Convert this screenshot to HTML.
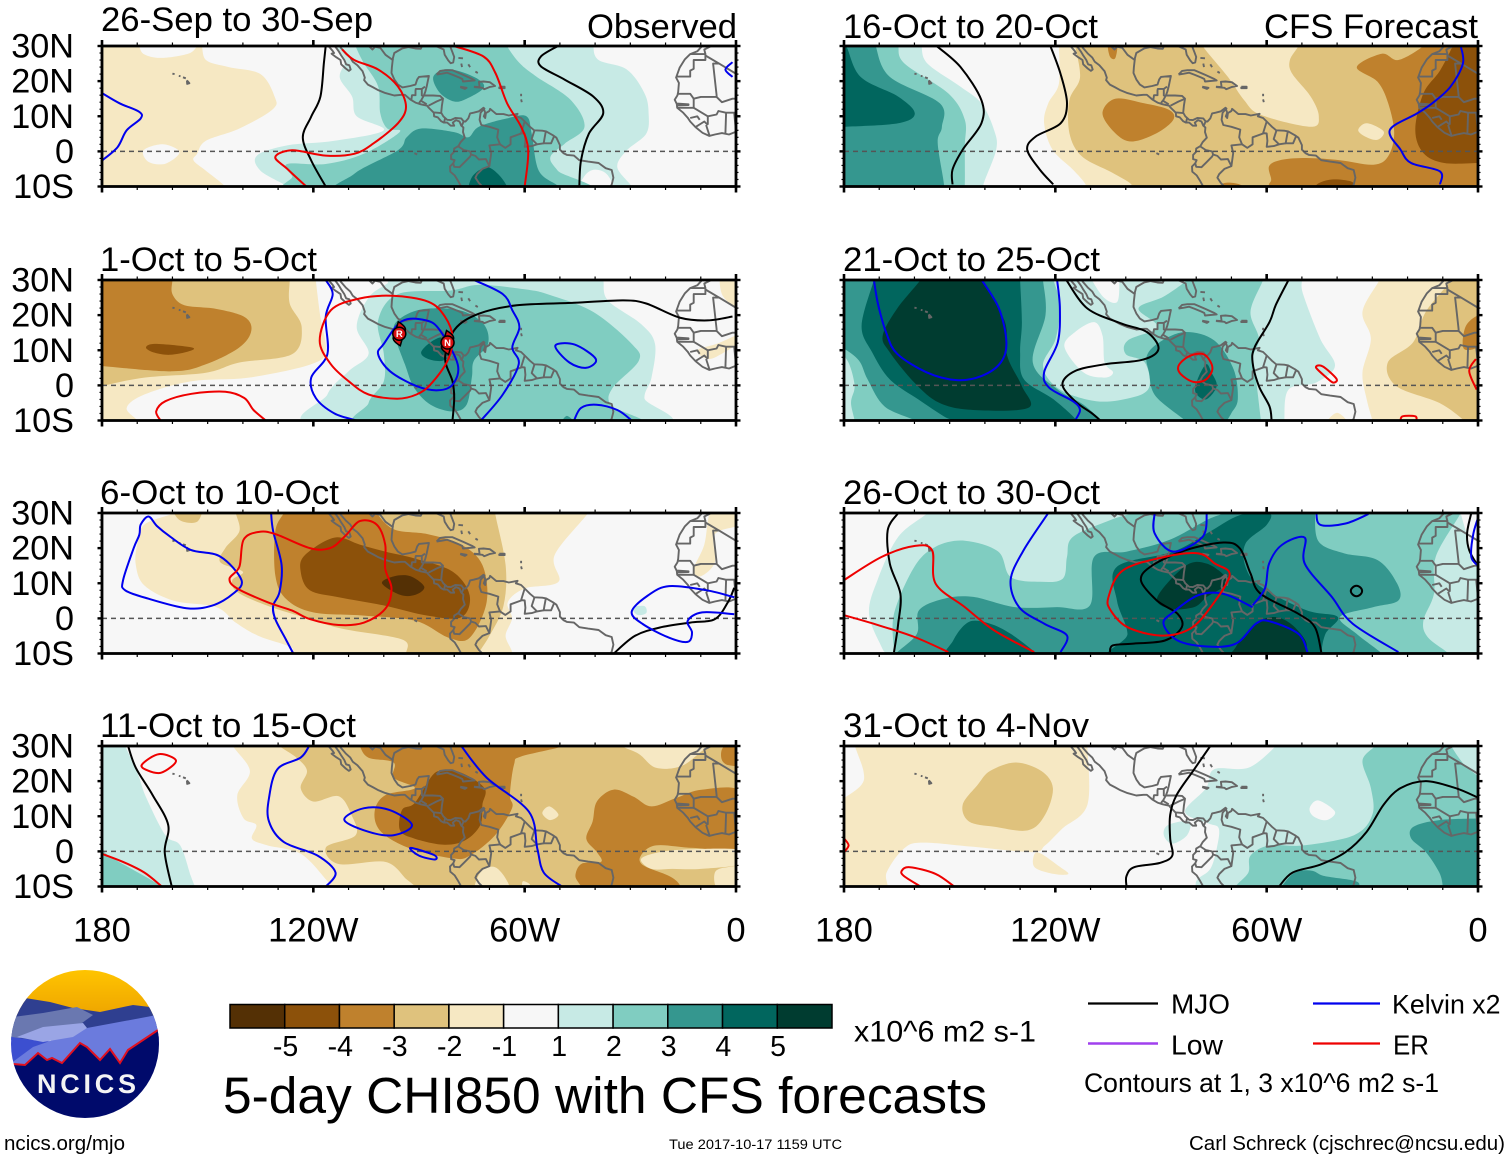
<!DOCTYPE html>
<html lang="en">
<head>
<meta charset="utf-8">
<title>5-day CHI850 with CFS forecasts</title>
<style>
html,body{margin:0;padding:0;background:#fff;width:1510px;height:1159px;overflow:hidden}
svg{display:block}
text{font-family:"Liberation Sans",sans-serif;fill:#000}
</style>
</head>
<body>
<svg id="chart" xmlns="http://www.w3.org/2000/svg" width="1510" height="1159" viewBox="0 0 1510 1159">
  <g id="panels"></g>

  <g>
    <text x="101" y="31" font-size="34.7" textLength="272" lengthAdjust="spacingAndGlyphs">26-Sep to 30-Sep</text>
    <text x="587" y="38" font-size="34.7" textLength="150" lengthAdjust="spacingAndGlyphs">Observed</text>
    <text x="100" y="271" font-size="34.7" textLength="217" lengthAdjust="spacingAndGlyphs">1-Oct to 5-Oct</text>
    <text x="100" y="504" font-size="34.7" textLength="239" lengthAdjust="spacingAndGlyphs">6-Oct to 10-Oct</text>
    <text x="100" y="737" font-size="34.7" textLength="256" lengthAdjust="spacingAndGlyphs">11-Oct to 15-Oct</text>
    <text x="843" y="38" font-size="34.7" textLength="255" lengthAdjust="spacingAndGlyphs">16-Oct to 20-Oct</text>
    <text x="1264" y="38" font-size="34.7" textLength="214" lengthAdjust="spacingAndGlyphs">CFS Forecast</text>
    <text x="843" y="271" font-size="34.7" textLength="257" lengthAdjust="spacingAndGlyphs">21-Oct to 25-Oct</text>
    <text x="843" y="504" font-size="34.7" textLength="257" lengthAdjust="spacingAndGlyphs">26-Oct to 30-Oct</text>
    <text x="843" y="737" font-size="34.7" textLength="246" lengthAdjust="spacingAndGlyphs">31-Oct to 4-Nov</text>
  </g>

  <g id="colorbar"></g>
  <text x="854" y="1041.5" font-size="30" textLength="182" lengthAdjust="spacingAndGlyphs">x10^6 m2 s-1</text>
  <text x="223" y="1113" font-size="51.4" textLength="764" lengthAdjust="spacingAndGlyphs">5-day CHI850 with CFS forecasts</text>

  <g>
    <line x1="1088" y1="1003.5" x2="1158" y2="1003.5" stroke="#000" stroke-width="2.2"/>
    <text x="1171" y="1013.5" font-size="28" textLength="59" lengthAdjust="spacingAndGlyphs">MJO</text>
    <line x1="1313" y1="1003.5" x2="1380" y2="1003.5" stroke="#0000ee" stroke-width="2.2"/>
    <text x="1392" y="1013.5" font-size="27" textLength="108.5" lengthAdjust="spacingAndGlyphs">Kelvin x2</text>
    <line x1="1088" y1="1043.5" x2="1158" y2="1043.5" stroke="#a040ee" stroke-width="2.6"/>
    <text x="1171" y="1054.5" font-size="28" textLength="52" lengthAdjust="spacingAndGlyphs">Low</text>
    <line x1="1313" y1="1043.5" x2="1380" y2="1043.5" stroke="#ee0000" stroke-width="2.2"/>
    <text x="1393" y="1054.5" font-size="28" textLength="36" lengthAdjust="spacingAndGlyphs">ER</text>
    <text x="1084" y="1092" font-size="26.7" textLength="355" lengthAdjust="spacingAndGlyphs">Contours at 1, 3 x10^6 m2 s-1</text>
  </g>

  <text x="4" y="1150" font-size="20.5" textLength="121" lengthAdjust="spacingAndGlyphs">ncics.org/mjo</text>
  <text x="669" y="1149" font-size="14" textLength="173" lengthAdjust="spacingAndGlyphs">Tue 2017-10-17 1159 UTC</text>
  <text x="1189" y="1150" font-size="20.5" textLength="316" lengthAdjust="spacingAndGlyphs">Carl Schreck (cjschrec@ncsu.edu)</text>

  <g>
    <defs>
      <clipPath id="logoClip"><circle cx="85" cy="1044" r="74"/></clipPath>
      <linearGradient id="skyGrad" x1="0" y1="0" x2="0" y2="1">
        <stop offset="0" stop-color="#ffc400"/><stop offset="1" stop-color="#eea500"/>
      </linearGradient>
    </defs>
    <g clip-path="url(#logoClip)">
      <rect x="10" y="970" width="150" height="45" fill="url(#skyGrad)"/>
      <path d="M5 1000L25 998L50 1002L73 1008L100 1012L133 1005L150 1007L165 1012V1040H5Z" fill="#2f3f90"/>
      <path d="M5 1022L13 1017L43 1013L77 1007L93 1015L82 1023L60 1028L20 1038L5 1040Z" fill="#6a78b0"/>
      <path d="M5 1036L33 1040L60 1042L33 1050L15 1062L5 1070Z" fill="#3c4fd0"/>
      <path d="M10 1064L33 1047L87 1028L157 1015L165 1013V1040L127 1060L60 1072L10 1072Z" fill="#6b7bdd"/>
      <path d="M17 1037L43 1027L83 1023L87 1028L73 1037L43 1042Z" fill="#9aa5e5"/>
      <path d="M5 1064L13 1064L25 1065L38 1053L47 1060L52 1058L62 1063L80 1043L87 1047L100 1060L110 1049L120 1063L128 1050L158 1030L165 1026V1125H5Z" fill="#000a6b"/>
      <path d="M5 1064L13 1064L25 1065L38 1053L47 1060L52 1058L62 1063L80 1043L87 1047L100 1060L110 1049L120 1063L128 1050L158 1030L165 1026" fill="none" stroke="#e01020" stroke-width="2"/>
    </g>
    <text x="37" y="1093" font-size="27" font-weight="bold" textLength="99" style="fill:#f4f4f4">NCICS</text>
  </g>
</svg>

<script>
// ---- axis ticks -----------------------------------------------------------
const xTickValues = [180, 120, 60, 0];
const xTickLabels = ['180', '120W', '60W', '0'];
const yTickValues = [30, 20, 10, 0, -10];
const yTickLabels = ['30N', '20N', '10N', '0', '10S'];

// ---- colour scale ---------------------------------------------------------
const colorbarLevels = [-6, -5, -4, -3, -2, 0, 1, 2, 3, 4, 5];
const colorbarColors = ['#543005', '#8c510a', '#bf812d', '#dfc27d', '#f6e8c3', '#f7f7f7', '#c7eae5', '#80cdc1', '#35978f', '#01665e', '#003c30'];
const colorbarTicks = ['-5', '-4', '-3', '-2', '-1', '1', '2', '3', '4', '5'];

// ---- geography: lon degrees west, lat degrees north -----------------------
const coastPaths = [
 [116.2,31,115.7,30,114.6,28.7,114.1,28,114.8,27.8,113.5,26.8,112.3,26,112.1,24.8,110.8,23.6,109.9,22.9,109.4,23.3,109.8,24.5,110.7,24.8,111.2,26,112.2,27.5,112.8,28.5,113.5,29.5,114.7,30.8,114.8,32],
 [114.8,32,113,31.2,112.2,29.5,110.8,27.9,109.5,26.7,108.8,25.5,107.5,24.5,106,22.8,105.4,21,105.6,20.3,104.5,19,103,18.2,101.5,17.4,99.5,16.6,97,15.9,95,16.1,94,16.1,92.5,14.8,91,13.9,89.5,13.4,87.7,13,87.3,12.5,85.8,11,85.7,10,84.7,9.7,83.7,8.6,83,8.2,82,8.2,81,7.3,80,7.3,80.4,8.2,79.5,8.9,78.5,8.5,78,7.3,77.4,6.8,77.5,5.5,77,3.9,78.2,2.6,78.8,1.5,80,0.8,80.1,-0.2,80.9,-1,80.9,-2.2,79.9,-2.5,80.3,-3.4,81.2,-4.3,81.1,-5.8,79.9,-6.8,79,-8.2,78.3,-9.5,77.9,-10.3],
 [93,29.7,94.8,29.3,97,28,97.4,26.5,97.7,24,97.8,22.3,97,20.5,96,19,94.7,18.2,92.5,18.6,91,19,90.5,20.5,90,21.2,87.2,21.5,87.5,20,87.8,18.5,88.2,17,88.6,15.9,86,15.9,84,15.8,83.2,15,83.5,13,83.7,11,83.1,10,82,9,81,8.9,79.7,9.5,78,9.4,77.3,8.5,76.8,8.5,76,9.4,75.5,10.8,74.5,11,73,11.4,71.7,12.4,71.2,11,71.6,10,71.2,9.5,71,10.9,70,11.5,69.8,12.1,68.5,11,68,10.6,66,10.6,64.5,10.2,62,10.7,62.5,10,61,9.5,60,8.5,58.5,7,57.3,6,55,5.9,53.9,5.7,52,4.6,51,3.9,50,1.8,50,0.5,49,-0.5,48,-1,46,-1.2,44.5,-2.5,42,-2.9,39,-3.3,37,-4.8,35.3,-5.3,34.8,-7.5,35.3,-9.5,36,-10.5],
 [93,29.7,91,29.3,89.5,29.2,89,30.3,86,30.4,84.5,29.7,83,29,82.7,27.5,81.7,25.9,81,25.1,80.3,25.3,80,26.9,80.6,28.5,81.4,30.5,81.5,31],
 [85,21.9,84,22.9,82.5,23.1,80.5,23.1,77.5,21.8,75,20.7,74.2,20.2,77.5,19.9,77.7,20.6,78.5,21,80.5,21.8,82,22.4,83.5,22.1,85,21.9],
 [78.3,18.4,76.5,18.1,77,17.8,78.3,18.3],
 [74.4,18.4,72.8,18.3,73,19.8,71.7,19.9,69.9,19.7,68.4,18.6,70,18.3,71.5,17.7,72,18.1,74.4,18.3],
 [67.2,18.4,65.7,18.4,65.7,18,67.2,18,67.2,18.4],
 [78.8,26.6,77.5,26.5],[78,25,77.8,24],[76,24.8,75.5,24],[74,22.7,73.3,22.3],
 [61,16.4,61,15.7],[61,14.8,60.8,14],
 [160,22.1,159.4,22],[158.2,21.5,157.7,21.4],[157,21.1,156.2,20.8],[155.9,20.2,155.2,19.4,155.8,19.2,155.9,20.2],
 [91.3,-0.5,90.5,-0.9],
 [106.5,31.8,105,30.7,103.2,29,102.5,29.8,101,29.5,99.5,27.5,97.3,25.9],
 [92.2,14.6,92,16,91,16,91,17.3,90.9,17.8,89.2,17.8,88.3,18.4],
 [89.2,17.8,89.2,15.9,88.7,15.8,89.4,14.5,89.7,14.2,90,13.7],
 [89.4,14.4,87.8,13.4],[87.3,13,85,14.2,83.2,15],[85.7,11.1,83.7,10.9],[82.6,9.5,82.9,8.1],[77.3,8.6,77.9,7.2],
 [71.3,12.4,72.5,11,72.8,9,72.3,7.5,70,7,67.5,6.2,67.8,4,67,2,70,1.7,69.5,-0.5,70,-4.2,72,-5,73.5,-6.5,74,-7.5,73,-9,72,-10,70.5,-11],
 [78.8,1.4,77.3,0.4,75.5,0,75.2,-0.9,74,-1.3,73,-2.3,71,-2.2,70,-4.2],
 [75.2,-0.9,75.5,-1.5,77,-3,78.5,-4.5,80,-4.4,80.3,-3.4],
 [60,8.5,61,5.2,60,5.1,59.8,3,60,1.3,58,1.5,56.5,2],
 [60.7,5.2,64,4,64,2,65.5,1,67,2],
 [57.2,6,58,3.5,56.5,2,54.6,2.3],[54,5.7,54.4,3.5,54.6,2.3,52.5,2.3,51.7,4.2],
 [9.7,30.5,9.8,29.8,11,28.5,13,27.7,14.5,26.2,16,23.8,17,21,16.2,19.5,16.4,17,16.6,16,17.4,14.7,16.8,13.5,16.7,12.4,15,11,13.7,9.6,13,8.5,11.5,6.9,9.5,5.3,7.6,4.4,6,4.8,4,5.2,2,4.8,0,5.6,-1,5.8],
 [8.7,27.7,9,29,7,30,5,31.5],
 [13,27.7,8.7,27.7,8.7,26,12,26,12,23.5,13,23,13,21.3,17,21.3],
 [8.7,27.3,4.8,25,6.5,25,5.5,16,5.5,15.5,10,15.5,12,15,13,16.4,16.4,16.4],
 [4.8,25,-1,21.5],
 [16.7,13.6,13.5,13.4,13.5,13.2,16.7,13.1],
 [16.7,12.4,12,12.4,12,15],[12,12.4,8,10,5.5,10.5,5,11.5,2.9,11,0,11,-1,13],
 [8.5,7.5,7.5,4.4],[8,10,8,7.6],[11.5,6.9,9,8.5,8,7.5],[13,9.5,11,10,10.3,9],[3,5,2.8,11],[0,5.6,0.5,11],[5.5,15.5,4,14,1,15,-1,15]
];

// ---- panel 1: 26-Sep to 30-Sep -------------------------------------------
const p1Shading = [
 [-2,[182,32,170,32,169.5,30,168,27.6,163,26.6,155,28,152,31,150.5,26,144,24,135,22,131,15.6,131.5,12,141,6.5,150.5,3,153,-0.7,154,-2.6,150.5,-5.5,145,-10,145,-12,182,-12]],
 [0,[168.2,0.3,162.7,2,158,-0.2,162,-3.5,166.8,-3]],
 [1,[114,32,114,30,111,26,112.5,21,109,15.6,107.7,10,100,6,114,3,127.4,1.7,136,-1.2,135,-5.5,127.4,-10,127,-12,30,-12,29.6,-10,33.7,-4.5,31,0.3,25.5,5,24.8,10.8,26,16.6,31,23.3,39,26,40.5,30,40,32]],
 [0,[44.5,-12,43,-7,40,-5.2,36.4,-6.8,35,-12]],
 [2,[108,32,108,30,105.7,25.2,101.6,18.5,101,10.8,99,6.5,95.5,5.5,105.7,-0.7,116.5,-3.6,127.4,-3.6,126,-7,122,-12,44.5,-12,50.6,-5.5,52.7,-1.6,48.6,2.2,43,7,47,14.7,56.8,21.4,61.5,25.2,65,30,65,32]],
 [3,[86,21,83,23.3,78.5,22.8,73,20.4,71.7,18,76.5,15,80,14.2,84,16.6]],
 [3,[108.4,-6.4,96,0.3,93.5,4,89.4,6.5,80,5.5,76,4,73,7,65,9.4,59.5,10,58,5,56,-5.5,50.6,-9.8,50,-12,110,-12]],
 [4,[75,-7.4,71,-4.5,67.6,-6.4,65,-10,65,-12,75,-12]]
];
const p1Mjo = [
 [116.5,30,117,25.2,118,15.6,120.6,9.9,123,4,120.6,-2.6,116.5,-10],
 [50.6,30,55.4,27,55.4,24.2,48.6,20.4,40.5,15.6,37.7,10.8,41.8,5,44,-2.6,44.5,-10]
];
const p1Kelvin = [
 [180,16.6,175,13.7,169.5,11.3,169,9.4,173,6,175.6,1.2,180,-2.6],
 [1,25.4,3,23.3,1,21.2]
];
const p1Er = [
 [111.8,29,108.4,26,101.6,23.3,96,18.5,93.7,12.7,96,8,103,2.2,108.4,-0.7,116.5,-1.2,126,0.3,130.8,-1.6,127.4,-5,122,-10],
 [80,30,71.7,27,68.3,22.3,65,13.7,61,7,59,0.3,60,-10]
];

// ---- panel 2: 1-Oct to 5-Oct ---------------------------------------------
const p2Shading = [
 [-2,[119.3,32,119.3,30,118,19.5,116.5,10,120.6,6,138.3,2.2,154.6,1.2,168,-2.6,173,-6.4,170,-10,170,-12,182,-12,182,32]],
 [-3,[127,32,126.7,30,126.7,23.3,123.3,16.6,126,8.9,141,6.5,150.5,3.6,168,2.2,180,-0.2,182,-1,182,32]],
 [-4,[160,32,160,30,160,26,156.6,22.8,147.8,21.8,139.6,19.5,137.6,15.6,141,10.8,150.5,6,160,4,180,5.5,182,5.5,182,32]],
 [-5,[167.5,10.8,164.8,11.8,154.6,10.8,155.3,9.7,160.7,8.7,165.4,9.4]],
 [-2,[4,32,4,26,0,22,-2,22,-2,32]],
 [-2,[11,10,8,7.5,4,9,-2,13,-2,15,5,12]],
 [1,[116.8,-12,116,-2.6,110,4,104.3,9,107.7,16.6,104.3,25,99,29,95,32,39,32,37.7,30,36.4,24.2,27,17.5,23,11.8,24,2.2,26,-3.6,24,-12]],
 [2,[103,-12,104.3,-5,100,1.2,100,9,101.6,18.5,96,26,81,27,73,28.6,59.5,27.3,52.7,25.7,40.5,20.9,29.6,11.8,27.6,7,35,-0.7,35.7,-5.5,29.6,-12]],
 [3,[96,18.5,97,14.7,94,6,91.4,-0.7,86.7,-5.5,80.5,-7.4,76.5,-5.5,75,2.2,74.4,7,70.4,11.8,71.7,17.5,78.5,21.4,89.4,21.6]],
 [3,[49.3,-10.5,48,-8.7,46,-10.5]],
 [4,[89.4,9.4,86.7,12.3,83.3,13.7,80.5,11.8,81,9,83.3,7,87.4,7.5]]
];
const p2Mjo = [
 [1,19.6,8,18.5,16,19.3,25.5,23.3,32,24.2,46,23.5,62.2,22.8,73,20.4,79.8,16,82.6,8,80.5,1.2,80,-3.6,80.5,-10]
];
const p2Kelvin = [
 [116.5,30,114.5,26,116.5,19.5,116,8.9,120.6,2.2,119.3,-3.6,114,-8,107.7,-10],
 [74.4,30,66.2,26,63.5,21.4,61.5,16.6,63.5,10.8,61.7,6,66.2,-2.6,72.4,-10],
 [46,-10,44,-6.4,39.6,-5.5,33.7,-7,29.6,-10]
];
const p2KelvinLoops = [
 [100,11.8,94.8,18.3,88,18.5,84,15.6,79,6,80.4,0.3,84.6,-1.4,90.7,-0.2,98.2,4,101.6,8.9],
 [51.3,11.3,45.8,11.6,39.8,7.5,42.5,5,47.3,6.5]
];
const p2Er = [
 [163.4,-10,164.6,-7.4,162,-4.5,154.6,-2.4,145,-1.8,139.6,-3.6,137,-7,133.5,-10]
];
const p2ErLoops = [
 [118.2,12.7,115,21.4,107,24.7,97.5,25.5,87.3,23.8,82.6,19.5,80.5,13.7,81.9,7,86.7,0.3,90.7,-2.6,96.2,-3.8,104.3,-2.6,110,1.2,115,6]
];
const p2Storms = [[95.6,14.7],[81.9,12.2]];
const p2StormLabels = ['R','N'];

// ---- panel 3: 6-Oct to 10-Oct --------------------------------------------
const p3Shading = [
 [-2,[159.6,32,159.6,30,168,26.7,170,21,170.4,15.2,168,9.4,159.6,5,147.6,3.2,142,-1.2,135.6,-5,126,-8.4,123.6,-12,67,-12,63.6,-10,65.4,-5,63.6,0,64.8,4.6,60,8.5,50.4,10.4,51.5,18,42,30,42,32]],
 [-3,[159.6,32,158,28,153,27.5,152,32]],
 [-2,[6.5,32,-2,32,-2,27,6,24,6,16,10,12,12,14,9,21]],
 [1,[29.4,3,26,3.5,25.5,1.5,28,1]],
 [-3,[142,32,142,30,141,24.8,145,20,146.4,16,140,13.3,143,10.9,141.6,7.5,133,3.6,121,-0.2,111.6,-3,94.8,-6,93.6,-10,93,-12,72,-12,73,-10,70,-5,66,3.6,65.4,15.2,68.4,30,68,32]],
 [-4,[128,32,128.4,30,130.8,24.8,130.8,12.3,127.8,5.6,120,1.7,105.6,0.8,91,-0.7,81.6,-5.5,75.6,-5.5,70.8,4.6,72,15.2,78,21,87.6,24,97,25.3,102,30,102,32]],
 [-5,[122.4,18,114,23,106.8,21,99.6,19,91,17,80.4,13.3,75.6,6.5,78,0.3,87.6,0.8,99.6,3.6,112.8,6,121,8,123.6,13.3]],
 [-6,[100.5,10,97,12,92.4,12,88.5,9,91,6.7,95.4,6.7]]
];
const p3Mjo = [
 [34.7,-10,28.7,-5,21.6,-2.6,13,-1.2,6,-0.2,2.3,4.6,0.5,8.7]
];
const p3Kelvin = [
 [132,30,131.4,24.8,129,15.2,129.6,7.5,131.4,3.6,130.8,-0.2,127.8,-6,125.7,-10],
 [0.5,6,8.3,8,19,9.2,25,6.5,29.6,1.9,26.5,-1.6,19,-5.5,13.7,-6.7,12.5,-4,13.7,-0.7,9.6,1.7,0.5,1.2]
];
const p3KelvinLoops = [
 [169,26.7,166.8,29,164.4,26.3,160.8,23.4,154.8,19.5,146.4,17.6,140.4,10.9,142.8,7,148.8,3.6,156,2.9,166.8,5.6,173.4,8,174,10.9,171,20,169.4,23.8]
];
const p3ErLoops = [
 [143.8,11.3,141,14.7,139.8,22.4,135.6,24.6,130.8,24,121,20,115.2,20,111,23.4,106.8,27.7,102,26.7,99.6,21,99.6,14.2,97.8,8.5,99.6,2.7,105.6,-1.2,112.8,-1.9,121,-0.2,126,2.2,133,4.6,141.6,8.5]
];

// ---- panel 4: 11-Oct to 15-Oct -------------------------------------------
const p4Shading = [
 [1,[174,32,173.4,30,169.8,22,167.4,15.2,162,4.6,157.8,1.7,154.8,-7,153.6,-10,153,-12,182,-12,182,32]],
 [2,[180,2.7,178.8,-0.7,171.6,-5,165.6,-8.4,163.8,-10,164,-12,182,-12,182,2.7]],
 [-2,[142,32,142.8,30,138,22.9,141.6,16,139.8,9.4,136.2,7.5,137.4,3.6,133,1.7,123.6,-0.7,116.4,-8,115,-10,115,-12,-2,-12,-2,32]],
 [-3,[130,32,129.6,30,124.8,26.7,121.8,22.9,123.6,18,120,14.2,112.8,15.7,109.2,10.4,108,4.6,116.4,1.2,112.8,-3.6,99.6,-3,93.6,-7.9,91.2,-10,91,-12,-2,-12,-2,32]],
 [-2,[32,32,32.3,30,27.5,27.7,22.7,23.8,15.5,24.3,9.5,28.7,7.1,30,7,32]],
 [-2,[55,10.9,53,12.8,50.4,10.4,52.8,8.9]],
 [-2,[73.8,-12,72.6,-6,68.4,-4.5,64.8,-8.8,65,-12]],
 [-2,[60.5,-8.5,58.5,-9.5,60.5,-10.5]],
 [-4,[107,32,106.8,30,104.4,26.7,97.2,25.3,97.2,21,91.2,18,99.6,16,102.6,11.3,100.8,5.6,92.4,0.8,80.4,-2,75.6,-1.2,68.4,4.6,63.6,12.3,64.2,16,63,24.8,61,27,49,30,49,32]],
 [-4,[-2,16.6,9.5,17.6,17,15.2,24,12.8,29,15.5,34.7,17.6,39.5,14.2,40.7,8.5,42.5,3.6,39.5,-0.2,38.3,-3,43.8,-3.5,45.6,-7,44,-10,44,-12,16,-12,16,-9.5,19,-7,26.3,-4,27,-1.2,22.7,1.7,12,1,-2,1.2]],
 [-4,[4,29,2,31,-2,31,-2,25,2,24.5,4,26]],
 [-2,[27,-2.3,23,-0.5,15,0.5,-2,0.4,-2,-3.5,10,-5,18,-5,24,-5]],
 [-2,[6,-6,2.5,-4.5,-2,-5,-2,-12,5,-11]],
 [-5,[94.8,11.8,91.2,13.8,86.4,21.4,83.4,23,78,22.4,71.4,18,72,13.3,72.6,7.5,76.8,3.2,82.8,1.9,91.2,3.6,95.4,6]]
];
const p4Mjo = [
 [172.6,30,170.4,23.8,165.6,16,161.2,7.5,162.2,-0.2,160.2,-10]
];
const p4Kelvin = [
 [121.2,30,123.6,26.7,130.2,23.4,132.6,15.2,132.6,8.5,128.4,2.7,118.8,-1.2,113.7,-6,116.4,-10],
 [78,30,70.8,21,58.8,11.3,56.4,0.8,54.6,-6,49.4,-10]
];
const p4KelvinLoops = [
 [111.2,9,105.6,12.3,98.4,11.8,92,7.5,97.2,4.6,104.4,5.6],
 [92.4,1,85.8,-1,85.5,-2.3,90,-1.2]
];
const p4Er = [
 [180,-0.7,174,-3,168,-6,163,-10]
];
const p4ErLoops = [
 [168.6,24.8,163.8,27.7,159,25.8,163.2,22.4,167.4,23.2]
];

// ---- panel 5: 16-Oct to 20-Oct -------------------------------------------
const p5Shading = [
 [-2,[119,32,119,30,119,19.3,122,13.7,123.2,8,120.8,0.5,115,-5.2,111.4,-9.4,111,-12,-2,-12,-2,32]],
 [-3,[114,32,114.3,30,113,21,116,14.6,116,5.2,112.5,-1.4,104,-6,98.4,-9.4,98,-12,-2,-12,-2,32]],
 [-2,[78,32,78.2,30,71,21.2,66.4,14.6,61.7,10.4,47.5,7,45.2,10,47.5,15.6,52.8,22.2,53.4,26,51,30,51,32]],
 [-4,[106.6,10.8,103,15,94.8,13.7,87.7,11.8,86.5,9,91.2,5.2,98.3,2.8,103,5.2]],
 [-4,[105,30.5,104.5,27,103,26.5,102.5,30.5]],
 [-4,[34.4,24,27.3,27.8,22.6,26,15.5,30,15.5,32,-2,32,-2,-12,59,-12,59.3,-9.4,58.7,-8,59.3,-4.2,55.7,-2.4,48.7,-1.9,39.2,-2.5,29.7,-3.8,25.5,-1.4,23.8,5.2,25.5,13.7,28.5,19.8]],
 [-3,[34,6.1,31.5,8,26.8,5.7,28.5,3.3,32,4.2]],
 [-2,[34,6.1,31.5,8,26.8,5.7,28.5,3.3,32,4.2]],
 [-4,[74,-11,72,-9,68,-9.3,66,-11]],
 [-5,[7,32,7.2,30,10.8,23,15.5,16.5,17.8,6.1,15.5,-0.5,9.6,-3.3,0,-3.3,-2,-3.3,-2,32]],
 [-5,[46,-12,45.7,-9.4,41.5,-8,36.2,-8.5,35,-10,35,-12]],
 [1,[158,32,158,30,156.3,25,146.9,18.4,141,13.7,137.4,6.1,136.8,0.5,140.4,-9.4,140,-12,182,-12,182,32]],
 [2,[165,32,164.6,30,162.8,25,150.4,16.5,145.7,9,145.7,1.4,145.7,-9.4,146,-12,182,-12,182,32]],
 [3,[171,32,171,30,167,21.2,152.8,13.7,152.2,7,153.4,2.4,151.6,-9.4,152,-12,182,-12,182,32]],
 [4,[182,32,179.4,30,175.3,21.2,164.6,15.6,159.9,10.8,164.6,8,180,7,182,7]]
];
const p5Mjo = [
 [153.7,30,146.9,24,141,14.6,141,8,146.3,0.5,149.2,-5.2,149.2,-9.4],
 [121.4,30,118.5,22,116.7,13.7,118.5,8,125.6,4.2,128,0.5,124.4,-5.2,120.6,-9.4]
];
const p5Kelvin = [
 [4.9,30,4.3,25,7.8,18.4,13,13.7,17.3,10.8,25,6.1,22,0.5,19,-3.3,10.8,-5.7,10.8,-9.4]
];

// ---- panel 6: 21-Oct to 25-Oct -------------------------------------------
const p6Shading = [
 [1,[50,32,50,30,49.6,25.8,44.8,13.3,40.6,5.6,46,0.8,53.8,-1.2,55,-10,55,-12,182,-12,182,32]],
 [0,[109.6,32,109.6,30,106,24.8,102.4,23.8,101.8,30,102,32]],
 [0,[117.4,10.9,114.4,15.2,109,18,106.6,14.2,106,6.5,103.6,3.7,106,2.2,112,3.7]],
 [2,[182,32,120.5,32,120.5,30,118.7,22.9,119.9,13.3,123.5,5.6,119,-1,108.4,-4.5,98.8,-3.6,93.4,-0.7,94.6,6.5,100,8.9,99.4,12.8,91,16.6,96.4,21.9,89.2,25.3,82.6,30,82,32,61,32,61,30,64.6,21,62.2,13.3,64,7.5,62.8,-0.2,61.6,-10,61,-12,182,-12]],
 [1,[182,8,179,7,177,0,178,-5,177,-12,182,-12]],
 [3,[180,10.4,175.7,7,173.3,1.7,168.5,-6,160,-10,160,-12,107.2,-12,107.2,-10,112,-5.5,119.3,-1.2,126.4,6.5,122.8,20,123.5,30,123.5,32,182,32,182,10.4]],
 [4,[171,32,171.5,30,175,17,172,9.4,167,1.7,158.9,-4,151.7,-8.8,149.3,-10,149,-12,113.9,-12,113.9,-10,120.5,-4,128.9,1.7,130,9.4,129.5,18,130,30,130,32]],
 [5,[158,32,158.3,30,164.9,21.9,169,14.2,167,9.4,160,0.8,152.9,-5,143.3,-7,127.7,-6.4,129.5,-0.2,133.7,8.5,134.3,18,140.9,30,141,32]],
 [3,[94,8.5,90.4,12.3,83.2,15.2,74.9,12.8,69.4,4.6,68.2,-4,70,-7.9,71.2,-10,71,-11,83.2,-11,83.2,-10,91.6,-3,93.4,3.7]],
 [4,[77.2,6,75.7,3.7,74.2,-0.2,77.2,-4,80.2,-2,79.6,1.7]],
 [-2,[28,32,28,30,32.8,21,30.4,13.3,32.8,3.7,31.6,-4,30,-10,30,-12,-2,-12,-2,32]],
 [-2,[43,-11,40,-7.8,37,-11]],
 [-3,[8,32,7.6,30,14.8,21,18.4,12.3,25.6,6.5,23.2,-0.2,11,-5,4,-10,3,-12,-2,-12,-2,32]],
 [-4,[-1,20,3.4,17,4,10.4,-1,11.3,-3,15]]
];
const p6Mjo = [
 [116.9,30,110.9,21.9,101.2,17.6,94,15.2,90.7,10.4,95.2,7.3,106,6,114.4,4.1,118,0.3,114.4,-4.5,109.7,-7.9,107.2,-10],
 [53.8,30,57.4,22.9,59.2,18,63.4,10.9,64,6.5,62.2,-0.2,59.2,-6,58.6,-10]
];
const p6Kelvin = [
 [171.5,30,170.3,22.9,167.9,14.7,164.9,9,156.5,3.7,148,1.5,140.9,2.7,135.5,6.5,133.9,12.3,136,21.9,140.9,30],
 [119.5,30,118.7,21.9,119.3,12.3,123.2,3.7,121.7,-0.7,115,-4.5,113,-7,114.4,-10]
];
const p6Er = [
 [22,-10,21.4,-8.8,17.8,-8.8,17.5,-10],
 [0.6,7.5,2.5,4.1,0.4,-1.2]
];
const p6ErLoops = [
 [85,5.6,82,8.3,77.8,8.8,75.4,5.1,77.2,1.7,80.8,1,84.4,3.2],
 [46,5.1,44.1,5.4,40.2,1.9,41.1,0.8,43,2.2]
];

// ---- panel 7: 26-Oct to 30-Oct -------------------------------------------
const p7Shading = [
 [1,[156,32,156.3,30,164.6,23.2,170.5,10.9,172.9,1.3,169.3,-8.2,168,-10,168,-12,-2,-12,-2,32]],
 [0,[5,32,4.9,30,3,23,1.5,15.5,0,15,-2,15,-2,32]],
 [2,[166,-12,165.8,-9.6,165.8,1.3,160,14.7,154,20.4,145.7,22.1,136.2,19,132.7,11.8,124.4,10.4,117.9,11.3,116.7,17.5,115,23.2,104.3,28,98.3,30,98,32,5,32,4.9,30,12,17.5,12.5,7,15.5,-0.6,14.3,-5.3,8.4,-10,8,-12]],
 [3,[165,-12,165.2,-10,159.3,-4.4,158.7,2.3,151.6,5.6,143.3,6.1,131.5,3.2,119.6,3.2,110.2,3.7,109,17.5,99.7,19,87.7,22.3,77,28,72.3,30,72,32,46,32,46.3,30,45.2,21.8,38,18.5,28.5,16.6,23,10,22.6,5.1,29.7,3.2,39.2,0.4,34.5,-4.4,27.3,-10,27,-12]],
 [4,[102.5,5,102.5,14.7,86.5,19,77,24.2,67.6,29.4,59.3,30,60,26.6,66,21.3,66,14.7,61.7,9,48.7,2.3,39.8,0.4,43.3,-4.4,44.5,-10,44,-12,101.9,-12,99.5,-4.4]],
 [4,[149,-6.3,144.5,-1,138.6,-1.5,132.7,-4.4,126,-9.6,126,-12,150,-12]],
 [5,[91,6.1,83,15,77,15.6,71.7,11.8,72.3,9,77,6.1,80.6,3.2,87.7,2.8]],
 [5,[68.8,-8.2,63,-1.5,58,0.4,53.2,-1.5,49,-6.3,48.6,-10,48,-12,69,-12]]
];
const p7Mjo = [
 [164.6,30,167.6,25.1,167,15.6,164,7,164.6,-1.5,165.8,-9.6],
 [104.5,-9.6,103.7,-7.7,98.3,-7.2,88.9,-6.3,84.1,-2.5,85.3,1.3,91.2,5.1,95.7,10.9,92.4,15.1,83,19.4,72.3,21.6,67.6,19.9,64.6,12.8,61.7,7,51,1.3,46.3,-2.5,44.5,-9.6],
 [1.9,30,3.1,24.2,2.5,19.4,0.1,15.1]
];
const p7MjoLoops = [
 [36.1,7.8,35.6,8.8,34.5,9.3,33.4,8.8,32.9,7.8,33.4,6.8,34.5,6.3,35.6,6.8]
];
const p7Kelvin = [
 [122,30,129,19.4,132.7,10.9,130.3,3.2,123.2,-1.5,116.7,-4.9,118.5,-9.6],
 [91.8,30,91.8,24.2,86.5,19,78.2,23.2,77,30],
 [45.9,30,44.7,26.6,37.6,27,31.1,29.7],
 [64,3.7,60.5,8.5,59.3,15.6,55.7,20.9,49.2,23,49.2,15.6,41.5,6.1,35.6,-1.5,22.6,-9.6],
 [64,3.2,72.3,7,79.4,6.6,86.5,1.8,89.3,-1.5,85.3,-6.3,77,-8,68.8,-7.2,63,-1.5,59.3,-0.8,51,-4.4,48.4,-9.6],
 [-0.5,30,1.3,24.2,1.9,17.5,0,15]
];
const p7Er = [
 [180,10.9,169.3,17.5,160,20.6,155,19.4,154,9.9,145.7,3.2,137.4,-3.4,126,-9.6],
 [180,0.9,171.7,-1.5,160,-5.3,150.4,-9.6]
];
const p7ErLoops = [
 [104.9,6.1,100.8,13.7,88.9,17.5,79.4,18.5,74.7,15.6,70.5,12.3,75.9,3.2,81.8,-3,90,-4.9,99.5,-2.5,104.3,2.3]
];

// ---- panel 8: 31-Oct to 4-Nov --------------------------------------------
const p8Shading = [
 [-2,[177,32,176.9,30,174.5,22.9,175,19,180,15.2,182,15,182,-12,168.5,-12,167.9,-6,163,0.8,157.7,2.5,143.3,1.3,126.5,-0.2,122.9,1.7,118,6.5,110.9,13.3,110.9,30,111,32]],
 [-2,[125.9,-0.7,125.9,-4.5,120.5,-6.4,116.3,-6.4,119.3,-4,124,-0.7]],
 [-3,[131.3,25.3,124,22.9,120.7,18,122.9,10.4,127.7,6,137.3,7,144.5,8.5,146.3,13.3,142,19,138.5,22.9]],
 [1,[57,32,57.4,30,65.2,23.8,74.9,23.4,77.2,18,83.2,11.3,76.6,8,73.6,6.5,74.2,0.8,76,-5,79.6,-7.9,80.2,-10,80,-12,-2,-12,-2,32]],
 [1,[89.2,4.6,88,7.5,82,8.5,82.6,4.6,86.8,2.2]],
 [0,[47.8,12.3,45.4,14.5,40.6,11.3,43,8.9,46.6,9.9]],
 [2,[29,32,29.3,30,32.8,25.8,30.4,18,30,10.4,35.2,4.6,49.6,1.7,59.2,1.7,64.6,-1.2,65.2,-6,68.8,-10,68,-12,-2,-12,-2,32]],
 [1,[8,32,7.6,30,4,24.8,-0.5,21,-2,20,-2,32]],
 [3,[-1.4,9.4,11,8.9,18.3,7,19,3.7,14.8,-0.2,11,-6,10,-10,10,-12,-2,-12,-2,9.4]],
 [3,[55.7,-10,52,-6,47.2,-5.5,43.6,-7,35,-8.4,33.5,-10,33,-12,56,-12]]
];
const p8Mjo = [
 [76,30,80.9,22.9,85.6,16,87.4,10.4,87.4,3.6,86.8,-1.2,90.4,-3.3,97.6,-4.5,99.8,-7,99.8,-10],
 [56.5,-10,52.6,-6,44.8,-3.8,37.6,-0.2,31.6,5.6,26.8,13.3,22,18,14.8,20,6.4,18,0.2,15.4]
];
const p8Er = [
 [180,3.7,178.7,1.7,180,-0.2],
 [158.3,-10,163,-7,163.6,-5.5,161.3,-4.5,154,-6.4,148.7,-10]
];

const panels = [
 {col:0,row:0,shading:p1Shading,mjo:p1Mjo,kelvin:p1Kelvin,er:p1Er},
 {col:0,row:1,shading:p2Shading,mjo:p2Mjo,kelvin:p2Kelvin,kelvinLoops:p2KelvinLoops,er:p2Er,erLoops:p2ErLoops,storms:p2Storms,stormLabels:p2StormLabels},
 {col:0,row:2,shading:p3Shading,mjo:p3Mjo,kelvin:p3Kelvin,kelvinLoops:p3KelvinLoops,erLoops:p3ErLoops},
 {col:0,row:3,shading:p4Shading,mjo:p4Mjo,kelvin:p4Kelvin,kelvinLoops:p4KelvinLoops,er:p4Er,erLoops:p4ErLoops},
 {col:1,row:0,shading:p5Shading,mjo:p5Mjo,kelvin:p5Kelvin},
 {col:1,row:1,shading:p6Shading,mjo:p6Mjo,kelvin:p6Kelvin,er:p6Er,erLoops:p6ErLoops},
 {col:1,row:2,shading:p7Shading,mjo:p7Mjo,mjoLoops:p7MjoLoops,kelvin:p7Kelvin,er:p7Er,erLoops:p7ErLoops},
 {col:1,row:3,shading:p8Shading,mjo:p8Mjo,er:p8Er}
];

// ---- drawing --------------------------------------------------------------
const SVGNS = 'http://www.w3.org/2000/svg';
const colX = [102, 844];
const rowY = [46, 280, 513, 746];
const panelW = 634;
const panelH = 140.5;

function make(tag, parent) {
  const el = document.createElementNS(SVGNS, tag);
  parent.appendChild(el);
  return el;
}
function levelColor(level) {
  return colorbarColors[colorbarLevels.indexOf(level)];
}
function smoothPath(pts, closed) {
  const n = pts.length;
  const at = i => closed ? pts[(i + n) % n] : pts[Math.max(0, Math.min(n - 1, i))];
  let d = 'M' + pts[0][0].toFixed(1) + ' ' + pts[0][1].toFixed(1);
  const end = closed ? n : n - 1;
  for (let i = 0; i < end; i++) {
    const p0 = at(i - 1), p1 = at(i), p2 = at(i + 1), p3 = at(i + 2);
    d += 'C' + (p1[0] + (p2[0] - p0[0]) / 6).toFixed(1) + ' ' + (p1[1] + (p2[1] - p0[1]) / 6).toFixed(1) +
         ' ' + (p2[0] - (p3[0] - p1[0]) / 6).toFixed(1) + ' ' + (p2[1] - (p3[1] - p1[1]) / 6).toFixed(1) +
         ' ' + p2[0].toFixed(1) + ' ' + p2[1].toFixed(1);
  }
  return d + (closed ? 'Z' : '');
}

const root = document.getElementById('panels');

panels.forEach(function (panel, idx) {
  const x0 = colX[panel.col];
  const y0 = rowY[panel.row];
  const xScale = lon => x0 + (180 - lon) * panelW / 180;
  const yScale = lat => y0 + (30 - lat) * panelH / 40;
  const project = flat => {
    const out = [];
    for (let i = 0; i < flat.length; i += 2) out.push([xScale(flat[i]), yScale(flat[i + 1])]);
    return out;
  };

  const g = make('g', root);
  
  

  const clip = make('clipPath', g);
  clip.setAttribute('id', 'clip' + idx);
  const clipRect = make('rect', clip);
  clipRect.setAttribute('x', x0);
  clipRect.setAttribute('y', y0);
  clipRect.setAttribute('width', panelW);
  clipRect.setAttribute('height', panelH);

  const body = make('g', g);
  body.setAttribute('clip-path', 'url(#clip' + idx + ')');

  const bg = make('rect', body);
  bg.setAttribute('x', x0);
  bg.setAttribute('y', y0);
  bg.setAttribute('width', panelW);
  bg.setAttribute('height', panelH);
  bg.setAttribute('fill', levelColor(0));
  
  

  panel.shading.forEach(function (shape) {
    const el = make('path', body);
    el.setAttribute('d', smoothPath(project(shape[1]), true));
    el.setAttribute('fill', levelColor(shape[0]));
    
    
  });

  coastPaths.forEach(function (flat) {
    const pts = project(flat);
    const el = make('path', body);
    el.setAttribute('d', 'M' + pts.map(p => p[0].toFixed(1) + ' ' + p[1].toFixed(1)).join('L'));
    el.setAttribute('fill', 'none');
    el.setAttribute('stroke', '#666');
    el.setAttribute('stroke-width', '1.9');
    el.setAttribute('stroke-linejoin', 'round');
    
    
  });

  const eq = make('line', body);
  eq.setAttribute('x1', x0);
  eq.setAttribute('x2', x0 + panelW);
  eq.setAttribute('y1', yScale(0));
  eq.setAttribute('y2', yScale(0));
  eq.setAttribute('stroke', '#555');
  eq.setAttribute('stroke-width', '1.6');
  eq.setAttribute('stroke-dasharray', '5 4');
  
  

  const drawContours = function (list, color, closed, name) {
    (list || []).forEach(function (flat) {
      const el = make('path', body);
      el.setAttribute('d', smoothPath(project(flat), closed));
      el.setAttribute('fill', 'none');
      el.setAttribute('stroke', color);
      el.setAttribute('stroke-width', '2');
      el.setAttribute('stroke-linejoin', 'round');
      
      
    });
  };
  drawContours(panel.mjo, '#000', false, 'mjo-contour');
  drawContours(panel.mjoLoops, '#000', true, 'mjo-contour');
  drawContours(panel.kelvin, '#0000ee', false, 'kelvin-contour');
  drawContours(panel.kelvinLoops, '#0000ee', true, 'kelvin-contour');
  drawContours(panel.er, '#ee0000', false, 'er-contour');
  drawContours(panel.erLoops, '#ee0000', true, 'er-contour');

  (panel.storms || []).forEach(function (s, i) {
    const cx = xScale(s[0]);
    const cy = yScale(s[1]);
    const storm = make('g', g);
    
    
    const tail1 = make('path', storm);
    tail1.setAttribute('d', 'M' + (cx - 1) + ' ' + (cy - 12) + 'Q' + (cx + 9) + ' ' + (cy - 6) + ' ' + (cx + 5) + ' ' + (cy - 2) + 'L' + (cx - 3) + ' ' + (cy - 5) + 'Z');
    tail1.setAttribute('fill', '#d81010');
    tail1.setAttribute('stroke', '#000');
    tail1.setAttribute('stroke-width', '1.5');
    const tail2 = make('path', storm);
    tail2.setAttribute('d', 'M' + (cx + 1) + ' ' + (cy + 12) + 'Q' + (cx - 9) + ' ' + (cy + 6) + ' ' + (cx - 5) + ' ' + (cy + 2) + 'L' + (cx + 3) + ' ' + (cy + 5) + 'Z');
    tail2.setAttribute('fill', '#d81010');
    tail2.setAttribute('stroke', '#000');
    tail2.setAttribute('stroke-width', '1.5');
    const disc = make('circle', storm);
    disc.setAttribute('cx', cx);
    disc.setAttribute('cy', cy);
    disc.setAttribute('r', '6.5');
    disc.setAttribute('fill', '#d81010');
    disc.setAttribute('stroke', '#000');
    disc.setAttribute('stroke-width', '1.5');
    const label = make('text', storm);
    label.setAttribute('x', cx);
    label.setAttribute('y', cy + 3.5);
    label.setAttribute('text-anchor', 'middle');
    label.setAttribute('font-size', '9.5');
    label.setAttribute('font-weight', 'bold');
    label.setAttribute('style', 'fill:#fff');
    label.textContent = panel.stormLabels[i];
  });

  const frame = make('rect', g);
  frame.setAttribute('x', x0);
  frame.setAttribute('y', y0);
  frame.setAttribute('width', panelW);
  frame.setAttribute('height', panelH);
  frame.setAttribute('fill', 'none');
  frame.setAttribute('stroke', '#000');
  frame.setAttribute('stroke-width', '2.8');
  
  

  const tick = function (x1, y1, x2, y2, w) {
    const t = make('line', g);
    t.setAttribute('x1', x1);
    t.setAttribute('y1', y1);
    t.setAttribute('x2', x2);
    t.setAttribute('y2', y2);
    t.setAttribute('stroke', '#000');
    t.setAttribute('stroke-width', w);
    
    
  };
  for (let lon = 0; lon <= 180; lon += 10) {
    const major = xTickValues.indexOf(lon) >= 0;
    const len = major ? 6 : 3.5;
    const w = major ? 2.6 : 1.2;
    tick(xScale(lon), y0, xScale(lon), y0 - len, w);
    tick(xScale(lon), y0 + panelH, xScale(lon), y0 + panelH + len, w);
  }
  for (let lat = -10; lat <= 30; lat += 2) {
    const major = yTickValues.indexOf(lat) >= 0;
    const len = major ? 4.5 : 2.5;
    const w = major ? 2.4 : 1.2;
    tick(x0, yScale(lat), x0 - len, yScale(lat), w);
    tick(x0 + panelW, yScale(lat), x0 + panelW + len, yScale(lat), w);
  }

  if (panel.col === 0) {
    yTickValues.forEach(function (lat, i) {
      const t = make('text', g);
      t.setAttribute('x', 74);
      t.setAttribute('y', yScale(lat) + 11.5);
      t.setAttribute('text-anchor', 'end');
      t.setAttribute('font-size', '34.2');
      
      
      t.textContent = yTickLabels[i];
    });
  }
  if (panel.row === 3) {
    xTickValues.forEach(function (lon, i) {
      const t = make('text', g);
      t.setAttribute('x', xScale(lon));
      t.setAttribute('y', 941.5);
      t.setAttribute('text-anchor', 'middle');
      t.setAttribute('font-size', '34.6');
      
      
      t.textContent = xTickLabels[i];
    });
  }
});

// colour bar
const cbar = document.getElementById('colorbar');
const cbarX = 230;
const cbarW = 602;
const cellW = cbarW / colorbarColors.length;
colorbarColors.forEach(function (c, i) {
  const r = make('rect', cbar);
  r.setAttribute('x', cbarX + i * cellW);
  r.setAttribute('y', 1004.5);
  r.setAttribute('width', cellW);
  r.setAttribute('height', 23.5);
  r.setAttribute('fill', c);
  r.setAttribute('stroke', '#000');
  r.setAttribute('stroke-width', '1.5');
  
  
});
colorbarTicks.forEach(function (label, i) {
  const t = make('text', cbar);
  t.setAttribute('x', cbarX + (i + 1) * cellW + 0.8);
  t.setAttribute('y', 1056);
  t.setAttribute('text-anchor', 'middle');
  t.setAttribute('font-size', '28.5');
  
  
  t.textContent = label;
});
</script>
</body>
</html>
